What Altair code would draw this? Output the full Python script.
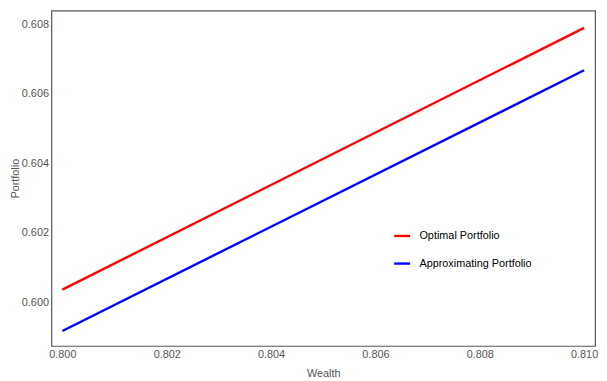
import altair as alt
import pandas as pd

wealth = [0.800, 0.810]
optimal = [0.60037, 0.60790]
approx = [0.59918, 0.60668]
series = ["Optimal Portfolio", "Approximating Portfolio"]

rows = []
for w, o, a in zip(wealth, optimal, approx):
    rows.append({"Wealth": w, "Portfolio": o, "Series": series[0]})
    rows.append({"Wealth": w, "Portfolio": a, "Series": series[1]})
df = pd.DataFrame(rows)

x_ticks = [0.800, 0.802, 0.804, 0.806, 0.808, 0.810]
y_ticks = [0.600, 0.602, 0.604, 0.606, 0.608]

axis_common = dict(
    labelFont="Liberation Sans", labelFontSize=11, labelColor="#555555",
    titleFont="Liberation Sans", titleFontSize=11, titleColor="#555555",
    titleFontWeight="normal", grid=False, ticks=False, labelPadding=3,
    domain=False,
)

chart = alt.Chart(df).mark_line(strokeWidth=2.4).encode(
    x=alt.X("Wealth:Q", scale=alt.Scale(domain=[0.79979, 0.81021], nice=False, zero=False),
            axis=alt.Axis(values=x_ticks, format=".3f", title="Wealth", titlePadding=8, **axis_common)),
    y=alt.Y("Portfolio:Q", scale=alt.Scale(domain=[0.59875, 0.6084], nice=False, zero=False),
            axis=alt.Axis(values=y_ticks, format=".3f", title="Portfolio", titlePadding=1, **axis_common)),
    color=alt.Color("Series:N", sort=series,
                    scale=alt.Scale(domain=series, range=["#ff0000", "#0000ff"]),
                    legend=alt.Legend(title=None, orient="none", legendX=346, legendY=219,
                                      symbolType="stroke", symbolStrokeWidth=2.4, symbolSize=260,
                                      labelFont="Liberation Sans", labelFontSize=11, labelColor="#000000",
                                      rowPadding=13, labelOffset=8)),
    detail="Series:N",
).properties(
    width=551, height=340,
    autosize=alt.AutoSizeParams(type="none"),
    padding={"left": 44, "top": 0, "right": 4, "bottom": 33},
).configure_view(stroke="#555555", strokeWidth=1.2)

chart.save("out.html", embed_options={"renderer": "svg", "actions": False})
